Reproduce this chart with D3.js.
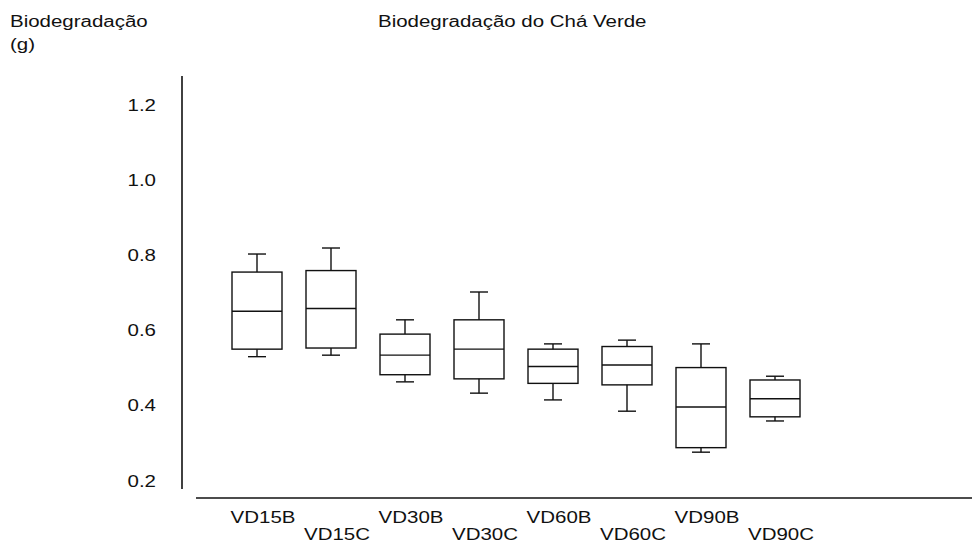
<!DOCTYPE html>
<html>
<head>
<meta charset="utf-8">
<script src="https://cdn.jsdelivr.net/npm/d3@7"></script>
<style>
  body { margin: 0; background: #fff; }
  text { font-family: "Liberation Sans", Arial, sans-serif; font-size: 16px; fill: #111; }
</style>
</head>
<body>
<div id="chart"></div>
<script>
// data (g)
var categories = ["VD15B", "VD15C", "VD30B", "VD30C", "VD60B", "VD60C", "VD90B", "VD90C"];
var whiskerLow  = [0.528, 0.532, 0.461, 0.431, 0.413, 0.383, 0.274, 0.357];
var q1          = [0.548, 0.551, 0.480, 0.469, 0.457, 0.453, 0.286, 0.368];
var medians     = [0.649, 0.656, 0.532, 0.548, 0.502, 0.506, 0.394, 0.416];
var q3          = [0.753, 0.757, 0.588, 0.626, 0.548, 0.555, 0.499, 0.466];
var whiskerHigh = [0.801, 0.817, 0.626, 0.700, 0.562, 0.572, 0.562, 0.476];
var yTicks = [0.2, 0.4, 0.6, 0.8, 1.0, 1.2];

var width = 972, height = 543;
var stretch = 1.28; // text in the original is wide

var svg = d3.select("#chart").append("svg")
    .attr("width", width)
    .attr("height", height);

var data = categories.map(function(c, i) {
  return { name: c, lo: whiskerLow[i], q1: q1[i], med: medians[i], q3: q3[i], hi: whiskerHigh[i] };
});

// scales
var x = d3.scalePoint().domain(categories).range([257, 775]);
var y = d3.scaleLinear().domain([0.2, 1.2]).range([480, 104]);

var boxW = 50, capW = 18;

// titles
svg.append("text")
    .attr("transform", "translate(10,27) scale(" + stretch + ",1)")
    .text("Biodegradação");
svg.append("text")
    .attr("transform", "translate(10,50) scale(" + stretch + ",1)")
    .text("(g)");
svg.append("text")
    .attr("transform", "translate(378,27) scale(" + stretch + ",1)")
    .text("Biodegradação do Chá Verde");

// y axis
var yAxis = svg.append("g")
    .attr("transform", "translate(182,0)")
    .call(d3.axisLeft(y).tickValues(yTicks).tickSize(0).tickFormat(d3.format(".1f")));
yAxis.select(".domain")
    .attr("d", "M0," + (y(1.2) - 28) + "V" + (y(0.2) + 9))
    .attr("stroke", "#111")
    .attr("stroke-width", 1.6);
yAxis.selectAll(".tick text")
    .attr("x", null).attr("dy", null)
    .attr("text-anchor", "end")
    .attr("font-size", null).attr("font-family", null)
    .attr("transform", "translate(-26,6) scale(" + stretch + ",1)");

// x axis line
svg.append("line")
    .attr("x1", 196).attr("x2", width)
    .attr("y1", 498).attr("y2", 498)
    .attr("stroke", "#111")
    .attr("stroke-width", 1.6);

// x labels, staggered on two rows
svg.selectAll(".xlabel")
    .data(categories)
  .enter().append("text")
    .attr("class", "xlabel")
    .attr("text-anchor", "middle")
    .attr("transform", function(d, i) {
      return "translate(" + (x(d) + 6) + "," + (i % 2 ? 540 : 523) + ") scale(" + stretch + ",1)";
    })
    .text(function(d) { return d; });

// boxes
var g = svg.selectAll(".box")
    .data(data)
  .enter().append("g")
    .attr("class", "box")
    .attr("stroke", "#111")
    .attr("stroke-width", 1.4)
    .attr("fill", "none");

// whiskers
g.append("line")
    .attr("x1", function(d) { return x(d.name); })
    .attr("x2", function(d) { return x(d.name); })
    .attr("y1", function(d) { return y(d.q3); })
    .attr("y2", function(d) { return y(d.hi); });
g.append("line")
    .attr("x1", function(d) { return x(d.name); })
    .attr("x2", function(d) { return x(d.name); })
    .attr("y1", function(d) { return y(d.q1); })
    .attr("y2", function(d) { return y(d.lo); });
g.append("line")
    .attr("x1", function(d) { return x(d.name) - capW / 2; })
    .attr("x2", function(d) { return x(d.name) + capW / 2; })
    .attr("y1", function(d) { return y(d.hi); })
    .attr("y2", function(d) { return y(d.hi); });
g.append("line")
    .attr("x1", function(d) { return x(d.name) - capW / 2; })
    .attr("x2", function(d) { return x(d.name) + capW / 2; })
    .attr("y1", function(d) { return y(d.lo); })
    .attr("y2", function(d) { return y(d.lo); });

// box + median
g.append("rect")
    .attr("x", function(d) { return x(d.name) - boxW / 2; })
    .attr("width", boxW)
    .attr("y", function(d) { return y(d.q3); })
    .attr("height", function(d) { return y(d.q1) - y(d.q3); });
g.append("line")
    .attr("x1", function(d) { return x(d.name) - boxW / 2; })
    .attr("x2", function(d) { return x(d.name) + boxW / 2; })
    .attr("y1", function(d) { return y(d.med); })
    .attr("y2", function(d) { return y(d.med); });
</script>
</body>
</html>
